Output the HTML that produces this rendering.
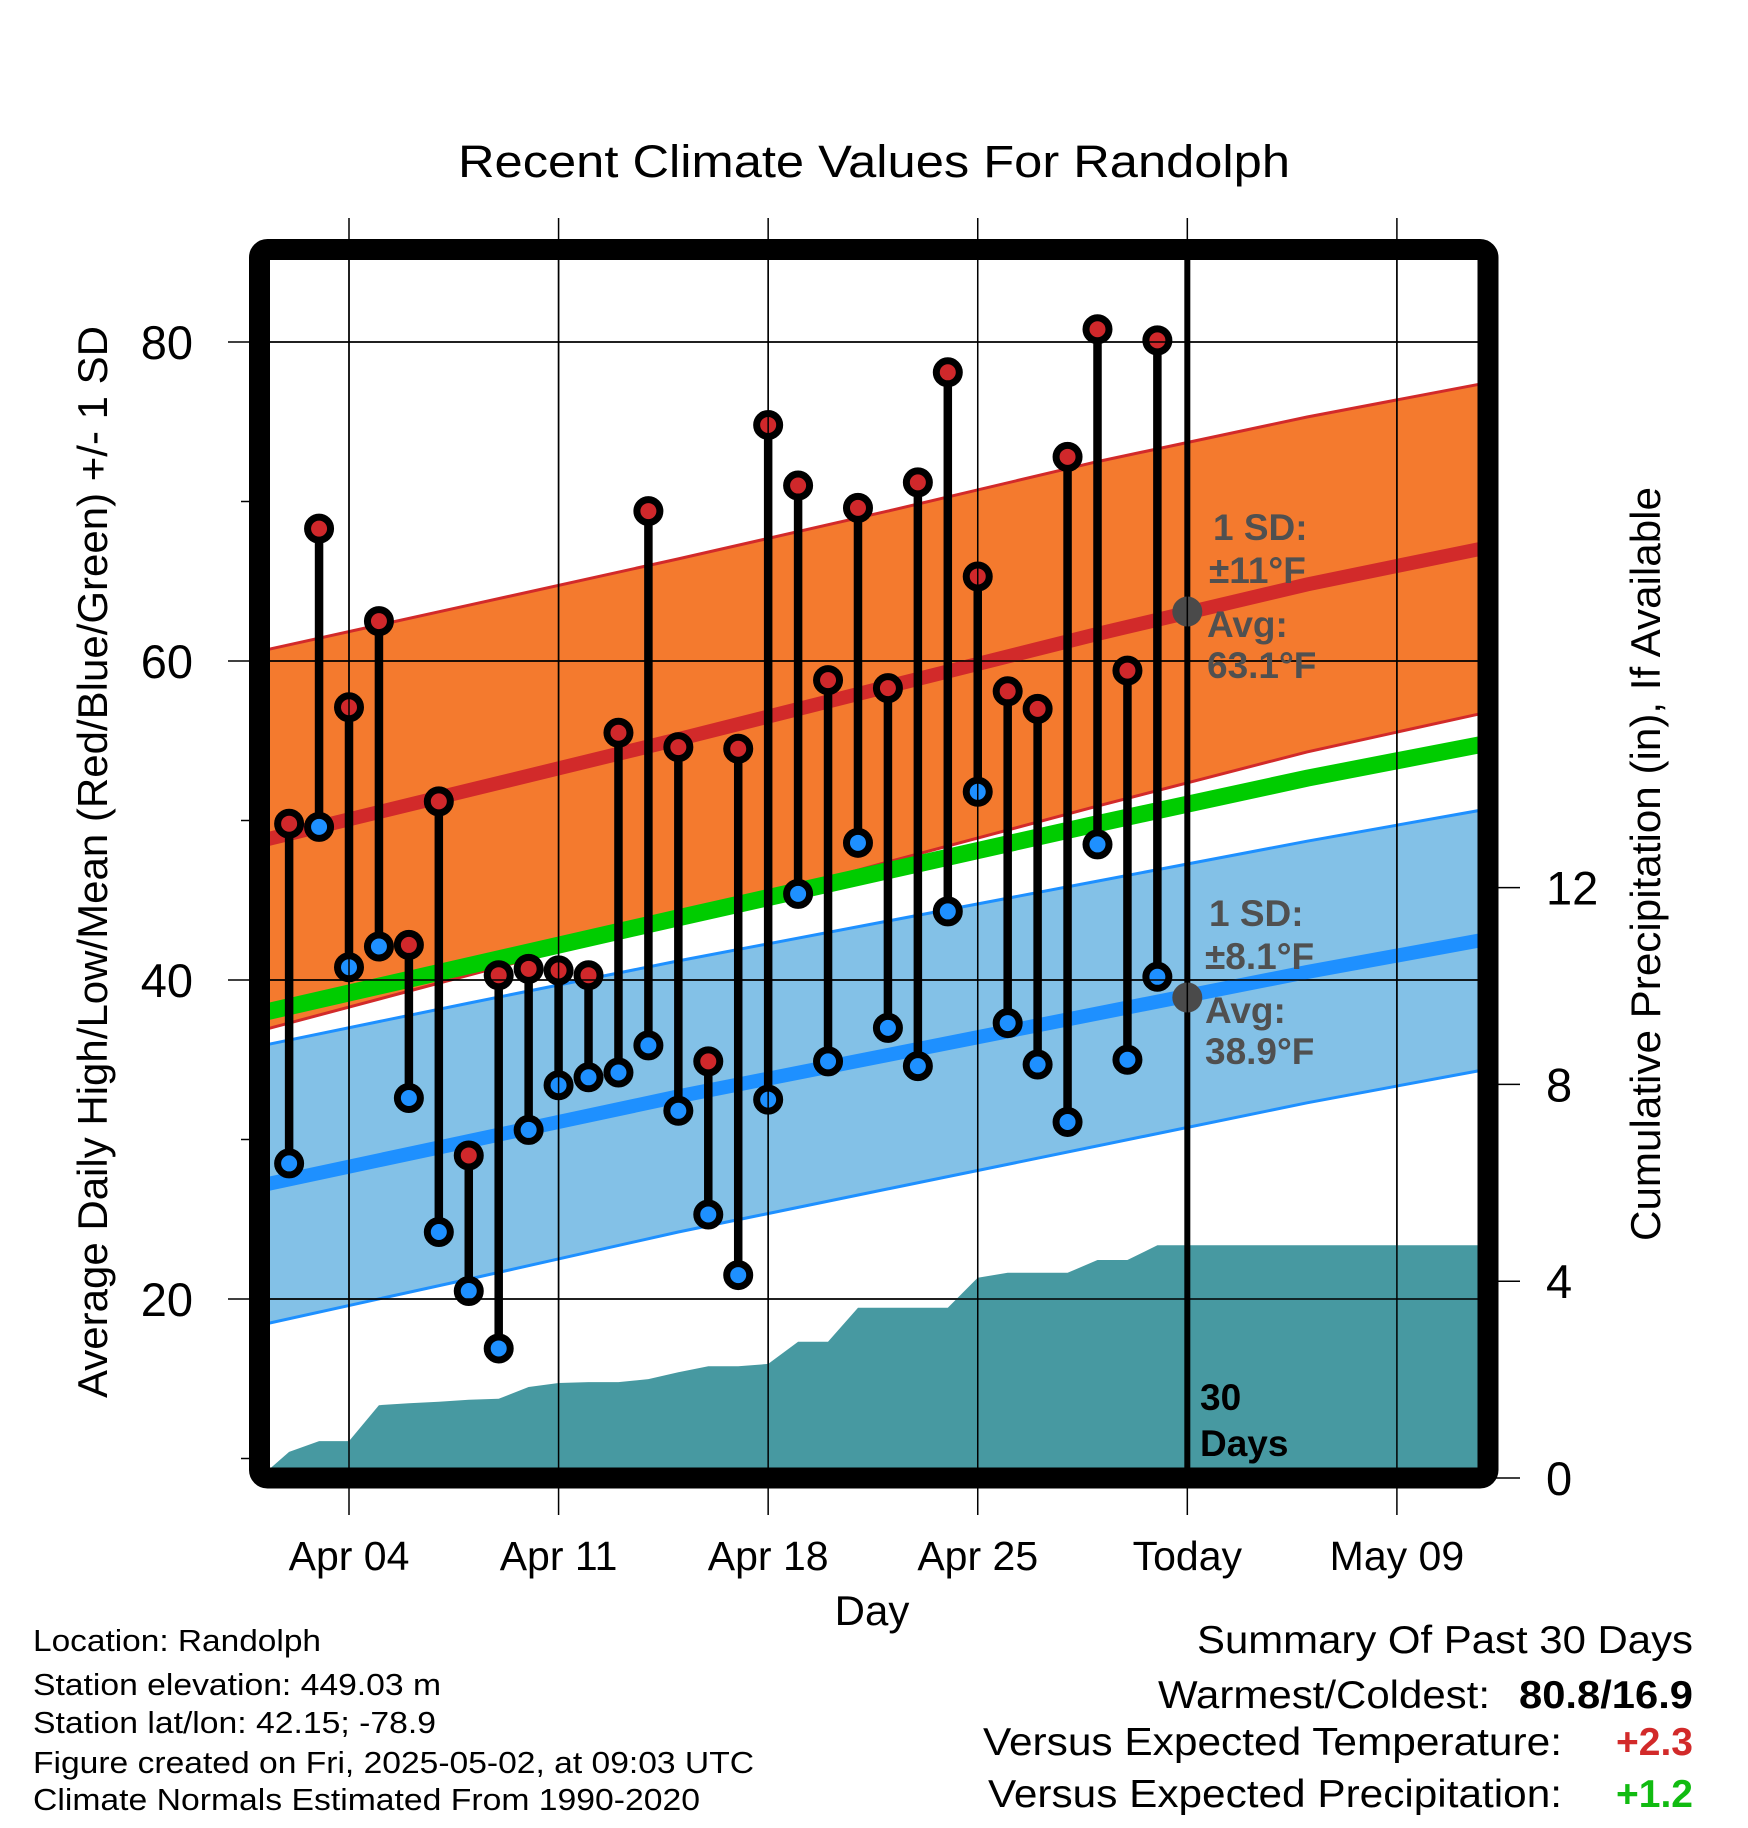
<!DOCTYPE html>
<html><head><meta charset="utf-8"><title>Recent Climate Values For Randolph</title>
<style>html,body{margin:0;padding:0;background:#fff}svg{display:block}text{font-family:"Liberation Sans",Arial,sans-serif}</style>
</head><body>
<svg id="chart" width="1748" height="1828" viewBox="0 0 1748 1828" xmlns="http://www.w3.org/2000/svg">
<defs><clipPath id="plotclip"><rect x="270" y="260" width="1208" height="1208"/></clipPath></defs>
<rect width="1748" height="1828" fill="#fff"/>
<text x="874" y="177" font-size="45" text-anchor="middle" textLength="832" lengthAdjust="spacingAndGlyphs">Recent Climate Values For Randolph</text>
<g id="plot" clip-path="url(#plotclip)"></g>
<g id="axes"></g>
<rect x="259.5" y="249.5" width="1228.5" height="1228.5" rx="8" fill="none" stroke="#000" stroke-width="21"/>
<text transform="translate(107,862) rotate(-90)" font-size="42" text-anchor="middle" textLength="1072" lengthAdjust="spacingAndGlyphs">Average Daily High/Low/Mean (Red/Blue/Green) +/- 1 SD</text>
<text transform="translate(1660,864) rotate(-90)" font-size="42" text-anchor="middle" textLength="754" lengthAdjust="spacingAndGlyphs">Cumulative Precipitation (in), If Available</text>
<text x="872" y="1625" font-size="42" text-anchor="middle">Day</text>
<g fill="#505050" font-weight="bold" font-size="37">
<text x="1213" y="540">1 SD:</text>
<text x="1209" y="583">±11°F</text>
<text x="1207" y="637">Avg:</text>
<text x="1207" y="678">63.1°F</text>
</g>
<g fill="#505050" font-weight="bold" font-size="37">
<text x="1209" y="926">1 SD:</text>
<text x="1205" y="969">±8.1°F</text>
<text x="1205" y="1023">Avg:</text>
<text x="1205" y="1064">38.9°F</text>
</g>
<g font-weight="bold" font-size="37" fill="#000">
<text x="1200" y="1410">30</text><text x="1200" y="1456">Days</text>
</g>
<g font-size="31" fill="#000">
<text x="33" y="1651" textLength="288" lengthAdjust="spacingAndGlyphs">Location: Randolph</text>
<text x="33" y="1695" textLength="408" lengthAdjust="spacingAndGlyphs">Station elevation: 449.03 m</text>
<text x="33" y="1733" textLength="403" lengthAdjust="spacingAndGlyphs">Station lat/lon: 42.15; -78.9</text>
<text x="33" y="1773" textLength="721" lengthAdjust="spacingAndGlyphs">Figure created on Fri, 2025-05-02, at 09:03 UTC</text>
<text x="33" y="1810" textLength="667" lengthAdjust="spacingAndGlyphs">Climate Normals Estimated From 1990-2020</text>
</g>
<g font-size="39" fill="#000">
<text x="1693" y="1653" text-anchor="end" textLength="496" lengthAdjust="spacingAndGlyphs">Summary Of Past 30 Days</text>
<text x="1490" y="1708" text-anchor="end" textLength="332" lengthAdjust="spacingAndGlyphs">Warmest/Coldest:</text>
<text x="1693" y="1708" text-anchor="end" font-weight="bold" textLength="174" lengthAdjust="spacingAndGlyphs">80.8/16.9</text>
<text x="1562" y="1755" text-anchor="end" textLength="579" lengthAdjust="spacingAndGlyphs">Versus Expected Temperature:</text>
<text x="1693" y="1755" text-anchor="end" font-weight="bold" fill="#D22A2A">+2.3</text>
<text x="1562" y="1807" text-anchor="end" textLength="574" lengthAdjust="spacingAndGlyphs">Versus Expected Precipitation:</text>
<text x="1693" y="1807" text-anchor="end" font-weight="bold" fill="#11BB11">+1.2</text>
</g>
<g id="fg"></g>
</svg>
<script>
// ---- data ----
const days = [2,3,4,5,6,7,8,9,10,11,12,13,14,15,16,17,18,19,20,21,22,23,24,25,26,27,28,29,30,31]; // April day numbers (31 = May 1)
const highs = [49.8,68.3,57.1,62.5,42.2,51.2,29.0,40.3,40.7,40.6,40.3,55.5,69.4,54.6,34.9,54.5,74.8,71.0,58.8,69.6,58.3,71.2,78.1,65.3,58.1,57.0,72.8,80.8,59.4,80.1];
const lows = [28.5,49.6,40.8,42.1,32.6,24.2,20.5,16.9,30.6,33.4,33.9,34.2,35.9,31.8,25.3,21.5,32.5,45.4,34.9,48.6,37.0,34.6,44.3,51.8,37.3,34.7,31.1,48.5,35.0,40.2];
const precipDays = [1,2,3,4,5,6,7,8,9,10,11,12,13,14,15,16,17,18,19,20,21,22,23,24,25,26,27,28,29,30,31,45];
const precipCum = [0,0.53,0.75,0.75,1.48,1.52,1.55,1.59,1.61,1.85,1.93,1.95,1.95,2.01,2.15,2.27,2.27,2.32,2.77,2.77,3.46,3.46,3.46,3.46,4.07,4.17,4.17,4.17,4.43,4.43,4.73,4.73];
const normDays = [1,8,15,22,29,36,43];
const hiMean = [48.7,51.9,55.1,58.4,61.7,64.8,67.5];
const hiSD = [11.9,11.6,11.3,11.0,10.8,10.5,10.3];
const loMean = [27.1,29.9,32.7,35.3,37.9,40.5,42.9];
const loSD = [8.75,8.65,8.5,8.4,8.3,8.2,8.15];
const todayDay = 32;
const todayHi = 63.1, todayLo = 38.9;
const yTicks = [20,40,60,80];
const yMinor = [10,30,50,70];
const y2Ticks = [0,4,8,12];
const xTickDays = [4,11,18,25,32,39];
const xTickLabels = ["Apr 04","Apr 11","Apr 18","Apr 25","Today","May 09"];

// ---- scales ----
const X = d => 349 + (d - 4) * 29.94;
const Y = t => 342 + (80 - t) * 15.95;
const P = p => 1478 - p * 49.2;
const NS = "http://www.w3.org/2000/svg";
function el(tag, attrs, parent){ const e=document.createElementNS(NS,tag); for(const k in attrs) e.setAttribute(k,attrs[k]); parent.appendChild(e); return e; }
const plot=document.getElementById('plot'), axes=document.getElementById('axes'), fg=document.getElementById('fg');
function pts(xs, ys){ return xs.map((x,i)=>X(x).toFixed(1)+','+ys[i].toFixed(1)).join(' '); }

// bands
const hiU = hiMean.map((m,i)=>Y(m+hiSD[i])), hiL = hiMean.map((m,i)=>Y(m-hiSD[i]));
const loU = loMean.map((m,i)=>Y(m+loSD[i])), loL = loMean.map((m,i)=>Y(m-loSD[i]));
const rev = a => a.slice().reverse();
let e;
e = el('polygon',{points: pts(normDays,hiU)+' '+pts(rev(normDays),rev(hiL)), fill:'#F47A2E'}, plot);
 
e = el('polyline',{points: pts(normDays,hiU), fill:'none', stroke:'#D22A2A', 'stroke-width':3}, plot);
 
e = el('polyline',{points: pts(normDays,hiL), fill:'none', stroke:'#D22A2A', 'stroke-width':3}, plot);
 
e = el('polygon',{points: pts(normDays,loU)+' '+pts(rev(normDays),rev(loL)), fill:'#83C1E7'}, plot);
 
e = el('polyline',{points: pts(normDays,loU), fill:'none', stroke:'#1E90FF', 'stroke-width':3}, plot);
 
e = el('polyline',{points: pts(normDays,loL), fill:'none', stroke:'#1E90FF', 'stroke-width':3}, plot);
 

// gridlines
yTicks.forEach(t=>{ const g=el('line',{x1:228,x2:1498,y1:Y(t),y2:Y(t),stroke:'#000','stroke-width':1.5},axes);
    });
yTicks.forEach(t=>{ const g=el('line',{x1:270,x2:1478,y1:Y(t),y2:Y(t),stroke:'#000','stroke-width':1.5},plot);
    });
yMinor.forEach(t=>{ const g=el('line',{x1:241,x2:250,y1:Y(t),y2:Y(t),stroke:'#000','stroke-width':1.5},axes);
    });
xTickDays.forEach(d=>{ const g=el('line',{x1:X(d),x2:X(d),y1:218,y2:1515,stroke:'#000','stroke-width':1.5},axes);
    });
xTickDays.forEach(d=>{ const g=el('line',{x1:X(d),x2:X(d),y1:260,y2:1468,stroke:'#000','stroke-width':1.5},plot);
    });
y2Ticks.forEach(p=>{ const g=el('line',{x1:1488,x2:1520,y1:P(p),y2:P(p),stroke:'#000','stroke-width':1.5},axes);
   
  const t=el('text',{x:1546,y:P(p)+17,'font-size':47},axes); t.textContent=p;
    });
yTicks.forEach(v=>{ const t=el('text',{x:193,y:Y(v)+17,'font-size':47,'text-anchor':'end'},axes); t.textContent=v;
    });
xTickDays.forEach((d,i)=>{ const t=el('text',{x:X(d),y:1570,'font-size':41,'text-anchor':'middle'},axes); t.textContent=xTickLabels[i];
    });

// mean lines
const midMean = hiMean.map((m,i)=>(m+loMean[i])/2);
e = el('polyline',{points: pts(normDays,midMean.map(Y)), fill:'none', stroke:'#00CC00','stroke-width':17}, plot);
 
e = el('polyline',{points: pts(normDays,hiMean.map(Y)), fill:'none', stroke:'#D22A2A','stroke-width':14}, plot);
 
e = el('polyline',{points: pts(normDays,loMean.map(Y)), fill:'none', stroke:'#1E90FF','stroke-width':14}, plot);
 

// precipitation area
e = el('polygon',{points: pts(precipDays,precipCum.map(P))+' '+X(45)+','+P(0)+' '+X(1)+','+P(0), fill:'#4799A1'}, plot);
 

// today line
e = el('line',{x1:X(todayDay),x2:X(todayDay),y1:260,y2:1468,stroke:'#000','stroke-width':6}, plot);
 

// stems and dots
days.forEach((d,i)=>{
  const s=el('line',{x1:X(d),x2:X(d),y1:Y(highs[i]),y2:Y(lows[i]),stroke:'#000','stroke-width':8.5},plot);
   
});
days.forEach((d,i)=>{
  const h=el('circle',{cx:X(d),cy:Y(highs[i]),r:11.5,fill:'#D0282B',stroke:'#000','stroke-width':7},plot);
   
  const l=el('circle',{cx:X(d),cy:Y(lows[i]),r:11.5,fill:'#1E90FF',stroke:'#000','stroke-width':7},plot);
   
});
e = el('circle',{cx:X(todayDay),cy:Y(todayHi),r:15,fill:'#4a4a4a'}, plot);
 
e = el('circle',{cx:X(todayDay),cy:Y(todayLo),r:15,fill:'#4a4a4a'}, plot);
 
</script>
</body></html>
